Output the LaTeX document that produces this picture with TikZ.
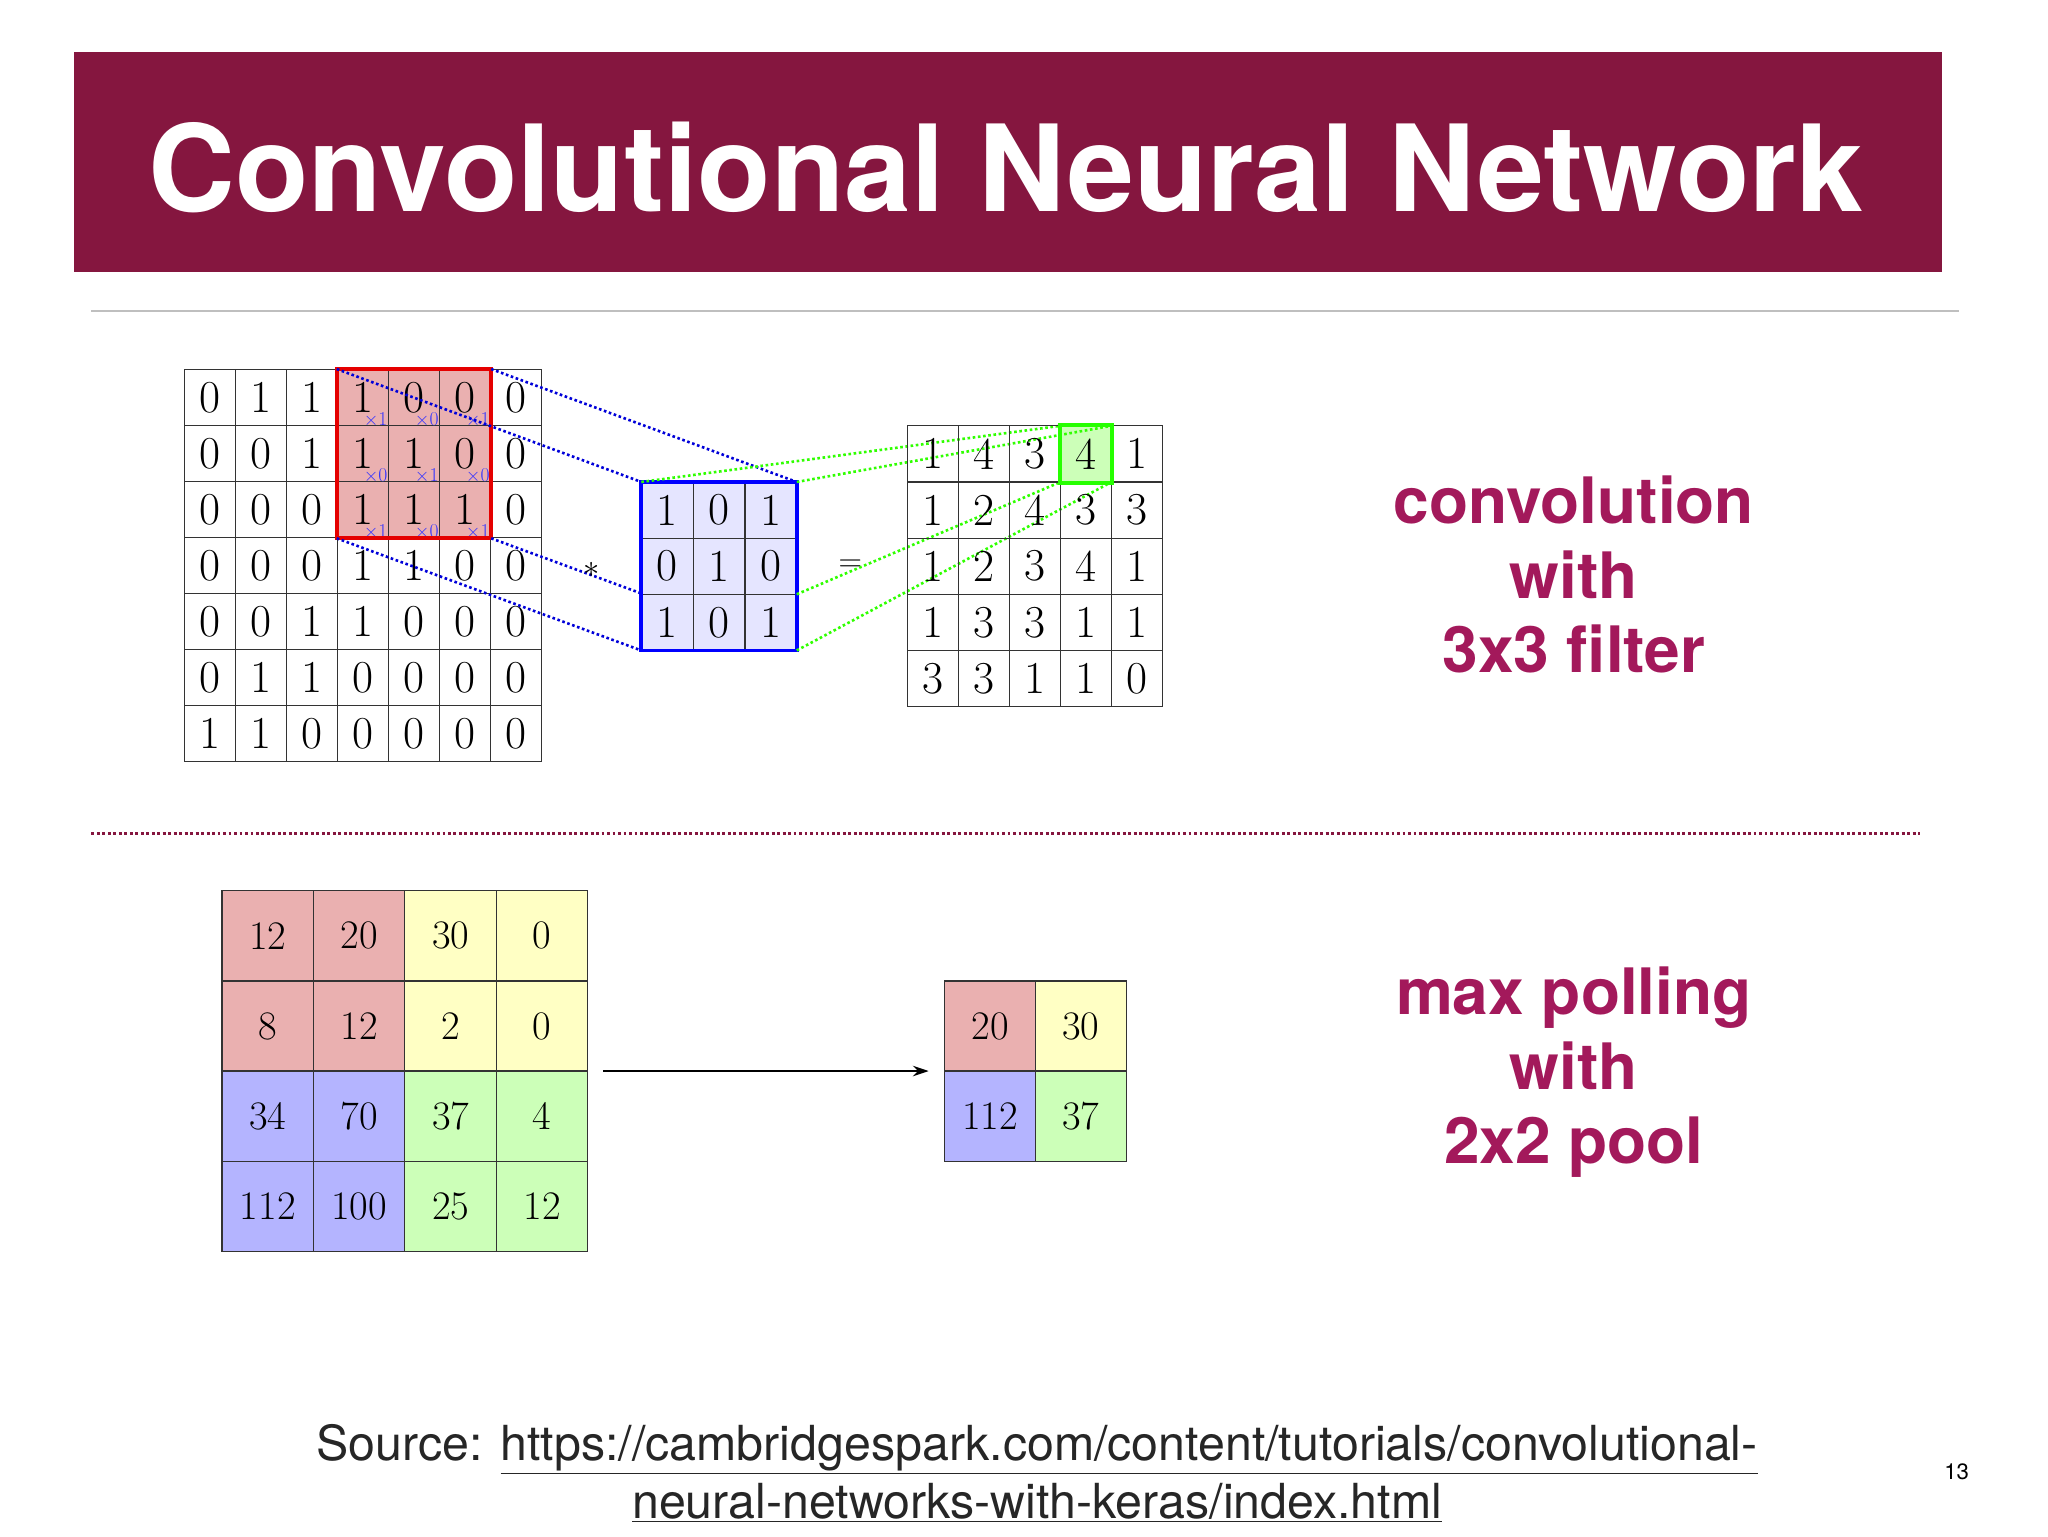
\documentclass[tikz,border=0pt]{standalone}
\usepackage{fontspec}
\newfontfamily\hv{TeX Gyre Heros}
\usetikzlibrary{arrows.meta}
\definecolor{banner}{HTML}{85163F}
\definecolor{magtxt}{HTML}{A3195B}
\definecolor{pr}{HTML}{EAB0B0}
\definecolor{py}{HTML}{FFFFC4}
\definecolor{pb}{HTML}{B4B4FF}
\definecolor{pg}{HTML}{CCFFB8}
\tikzset{
 cg/.style={draw=black!80,line width=0.9pt,minimum width=39.1pt,minimum height=42.9pt,inner sep=0pt,font=\fontsize{35}{35}\selectfont},
 og/.style={draw=black!80,line width=0.9pt,minimum width=39pt,minimum height=43pt,inner sep=0pt,font=\fontsize{35}{35}\selectfont},
 pc/.style={draw=black!80,line width=0.9pt,minimum width=70pt,minimum height=69pt,inner sep=0pt,font=\fontsize{31}{31}\selectfont},
 mul/.style={text=blue!80,font=\fontsize{15}{15}\selectfont,inner sep=0pt,anchor=south east},
 bdot/.style={blue!85!black,dotted,line width=2pt},
 gdot/.style={green!75!lime,dotted,line width=2pt},
 side/.style={text=magtxt,font=\hv\bfseries\fontsize{49}{57}\selectfont,align=center}
}
\begin{document}
\begin{tikzpicture}[x=1pt,y=-1pt]
\useasboundingbox (0,0) rectangle (1568,1176);
\fill[white] (0,0) rectangle (1568,1176);
% title
\fill[banner] (57,40) rectangle (1487,208);
\node[text=white,font=\hv\bfseries\fontsize{92}{92}\selectfont] (title) at (770,128) {Convolutional Neural Network};
\draw[black!25,line width=1pt] (70,238) -- (1500,238);
% input grid
\fill[pr] (258,283) rectangle (376,412);
\foreach \row [count=\r from 0] in {{0,1,1,1,0,0,0},{0,0,1,1,1,0,0},{0,0,0,1,1,1,0},{0,0,0,1,1,0,0},{0,0,1,1,0,0,0},{0,1,1,0,0,0,0},{1,1,0,0,0,0,0}}{
  \foreach \v [count=\c from 0] in \row {
    \node[cg] (in-\r-\c) at ({141+19.55+39.1*\c},{283+21.45+42.9*\r}) {\v};
  }
}
\foreach \row [count=\r from 0] in {{1,0,1},{0,1,0},{1,0,1}}{
  \foreach \v [count=\c from 0] in \row {
    \pgfmathtruncatemacro{\cc}{\c+3}
    \node[mul] (m-\r-\c) at ([shift={(-1pt,-1pt)}]in-\r-\cc.south east) {$\times$\v};
  }
}
\draw[red!90!black,line width=3pt] (in-0-3.north west) rectangle (in-2-5.south east);
% kernel
\coordinate (kTL) at (491,369); \coordinate (kTR) at (610,369);
\coordinate (kBL) at (491,498); \coordinate (kBR) at (610,498);
\draw[bdot] (in-0-3.north west) -- (kTL);
\draw[bdot] (in-0-5.north east) -- (kTR);
\draw[bdot] (in-2-3.south west) -- (kBL);
\draw[bdot] (in-2-5.south east) -- (kBR);
\fill[blue!10] (kTL) rectangle (kBR);
\foreach \row [count=\r from 0] in {{1,0,1},{0,1,0},{1,0,1}}{
  \foreach \v [count=\c from 0] in \row {
    \node[cg,minimum width=39.7pt,minimum height=43pt] (k-\r-\c) at ({491+19.85+39.7*\c},{369+21.5+43*\r}) {\v};
  }
}
\draw[blue,line width=3pt] (kTL) rectangle (kBR);
\node[font=\fontsize{35}{35}\selectfont] (star) at (453,436) {$*$};
\node[font=\fontsize{35}{35}\selectfont] (eq) at (651,433) {$=$};
% output
\fill[pg] (812,326) rectangle (851,369);
\draw[gdot] (kTL) -- (812,326);
\draw[gdot] (kTR) -- (851,326);
\draw[gdot] (610,455) -- (812,369);
\draw[gdot] (kBR) -- (851,369);
\foreach \row [count=\r from 0] in {{1,4,3,4,1},{1,2,4,3,3},{1,2,3,4,1},{1,3,3,1,1},{3,3,1,1,0}}{
  \foreach \v [count=\c from 0] in \row {
    \node[og] (out-\r-\c) at ({695+19.5+39*\c},{326+21.5+43*\r}) {\v};
  }
}
\draw[green!80!lime,line width=3pt] (out-0-3.north west) rectangle (out-0-3.south east);
\node[side] (t1) at (1205,440) {convolution\\with\\3x3 filter};
% separator
\draw[banner,dotted,line width=2.2pt] (70,638) -- (1470,638);
% pooling
\foreach \v [count=\i from 0] in {12,20,30,0,8,12,2,0,34,70,37,4,112,100,25,12}{
  \pgfmathtruncatemacro{\r}{div(\i,4)}
  \pgfmathtruncatemacro{\c}{mod(\i,4)}
  \pgfmathsetmacro{\colname}{\r<2 ? (\c<2 ? "pr" : "py") : (\c<2 ? "pb" : "pg")}
  \node[pc,fill=\colname] (p-\r-\c) at ({170+35+70*\c},{682+34.5+69*\r}) {\v};
}
\foreach \v/\col [count=\i from 0] in {20/pr,30/py,112/pb,37/pg}{
  \pgfmathtruncatemacro{\r}{div(\i,2)}
  \pgfmathtruncatemacro{\c}{mod(\i,2)}
  \node[pc,fill=\col] (q-\r-\c) at ({723+35+69.5*\c},{751+34.5+69*\r}) {\v};
}
\coordinate (arrS) at (462,820);
\coordinate (arrE) at (711,820);
\draw[-{Stealth[length=12pt,width=8pt]},line width=2pt] (arrS) -- (arrE);
\node[side] (t2) at (1205,821) {max polling\\with\\2x2 pool};
% source
\node[font=\hv\fontsize{37}{44}\selectfont,text=black!85,align=center] (src) at (794,1128) {Source: \underline{https://cambridgespark.com/content/tutorials/convolutional-}\\\underline{neural-networks-with-keras/index.html}};
\node[font=\hv\fontsize{17}{17}\selectfont] (pg) at (1498,1127) {13};
\end{tikzpicture}
\end{document}
